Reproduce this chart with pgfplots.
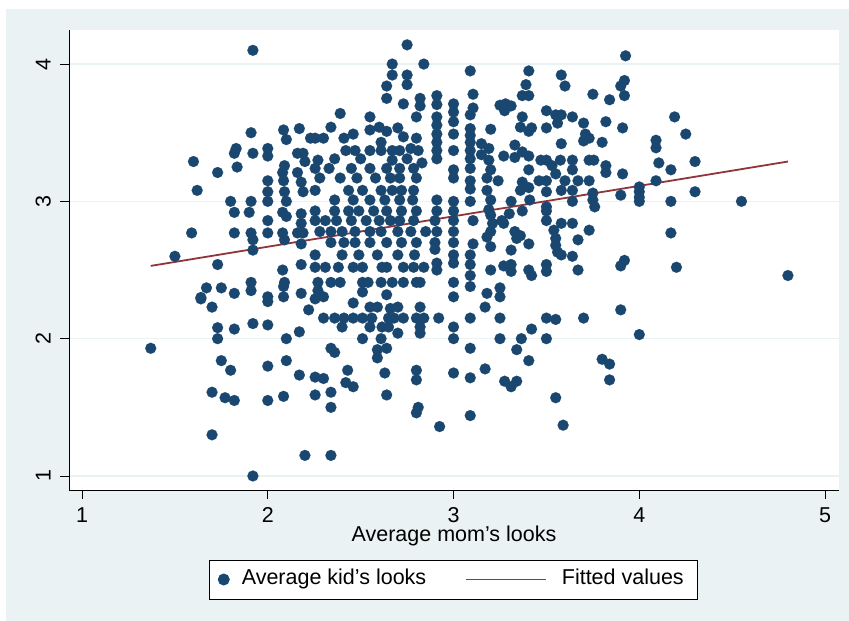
\documentclass[border=0pt]{standalone}
\usepackage{fontspec}
\setmainfont{Liberation Sans}
\usepackage{pgfplots}
\pgfplotsset{compat=1.18}
\definecolor{stbg}{HTML}{EAF2F3}
\definecolor{stblue}{HTML}{1A476F}
\definecolor{stred}{HTML}{90353B}
\begin{document}
\fontsize{21.5}{25}\selectfont
\begin{tikzpicture}[x=1pt,y=1pt]
\path[use as bounding box] (0,0) rectangle (849,621);
\fill[white] (0,0) rectangle (849,621);
\fill[stbg] (6,0) rectangle (849,612);
\begin{axis}[
  at={(69pt,131pt)}, anchor=south west,
  scale only axis, width=770pt, height=460pt,
  xmin=0.93, xmax=5.075, ymin=0.898, ymax=4.248,
  axis x line*=bottom, axis y line*=left,
  axis line style={black, line width=0.9pt, -},
  axis background/.style={fill=white},
  xtick={1,2,3,4,5}, ytick={1,2,3,4},
  tick align=outside, major tick length=9pt,
  tick style={black, line width=0.9pt},
  ymajorgrids, major grid style={stbg, line width=1.6pt},
  /pgf/number format/assume math mode=true,
  ticklabel style={font=\fontsize{21.5}{25}\selectfont},
  xticklabel style={anchor=base, yshift=-23pt},
  yticklabel style={xshift=-9.3pt, rotate=90, anchor=base},
  xlabel={Average mom's looks},
  xlabel style={at={(axis description cs:0.5,0)}, anchor=base, yshift=-52pt, font=\fontsize{21.5}{25}\selectfont},
  legend columns=2, legend cell align=left,
  legend style={at={(axis description cs:0.4994,-0.1946)}, anchor=center,
    draw=black, line width=0.9pt, fill=white, inner xsep=0pt, inner ysep=9.75pt,
    column sep=0pt, font=\fontsize{21.5}{25}\selectfont,
    nodes={inner sep=0pt, text height=15pt, text depth=4.5pt}},
]
% Average kid's looks
\addplot[only marks, mark=*, mark size=5.5pt, mark options={fill=stblue, draw=stblue, line width=0.1pt},
  legend image code/.code={\path (0pt,0pt) (31.6pt,0pt); \fill[stblue] (14pt,0pt) circle (5.5pt);}]
coordinates {
(1.92,4.10) (1.91,3.50) (2.085,3.52) (2.10,3.45) (2.17,3.53) (2.23,3.46) (1.60,3.29)
(1.83,3.385) (1.82,3.35) (1.92,3.35) (2.00,3.385) (2.00,3.33) (2.16,3.35) (1.73,3.21)
(1.835,3.25) (2.09,3.26) (2.08,3.21) (2.085,3.15) (2.16,3.21) (2.18,3.14) (2.20,3.29)
(1.62,3.08) (2.00,3.15) (2.00,3.07) (2.00,3.00) (2.09,3.07) (2.10,3.00) (2.08,2.92)
(2.10,2.89) (1.80,3.00) (1.82,2.92) (1.91,3.00) (1.90,2.92) (2.00,2.86) (2.18,2.91)
(2.18,2.84) (2.16,2.77) (2.19,2.77) (2.18,2.69) (1.59,2.77) (1.82,2.77) (1.91,2.77)
(1.92,2.72) (1.92,2.645) (2.00,2.77) (2.08,2.77) (2.09,2.72) (1.50,2.60)
(1.73,2.54) (2.08,2.50) (2.09,2.41) (2.085,2.38) (2.18,2.54) (1.67,2.37) (1.64,2.30)
(1.64,2.29) (1.75,2.37) (1.82,2.33) (1.91,2.41) (1.91,2.35) (2.00,2.305) (2.00,2.27)
(2.085,2.305) (2.18,2.33) (2.22,2.21) (1.70,2.23) (1.73,2.08) (1.73,2.00) (1.82,2.07)
(1.92,2.11) (2.00,2.10) (2.10,2.00) (2.17,2.05) (1.37,1.93) (1.75,1.84) (1.80,1.77)
(2.00,1.80) (2.10,1.84) (2.17,1.735) (1.70,1.61) (1.77,1.57) (1.82,1.55) (2.00,1.55)
(2.085,1.58) (1.70,1.30) (2.20,1.15) (1.92,1.00)
(2.75,4.14) (2.67,4.00) (2.67,3.92) (2.84,4.00) (2.75,3.92) (2.75,3.85) (2.64,3.84)
(2.64,3.75) (2.73,3.71) (2.82,3.75) (2.82,3.695) (2.80,3.615) (2.91,3.77) (2.91,3.705)
(2.91,3.615) (2.91,3.555) (2.91,3.49) (2.91,3.43) (2.91,3.37) (2.91,3.31) (3.00,3.71)
(3.00,3.65) (3.00,3.58) (3.00,3.49) (3.00,3.37) (3.00,3.23) (3.00,3.17) (2.39,3.64)
(2.55,3.615) (2.34,3.54) (2.255,3.46) (2.30,3.46) (2.41,3.46) (2.46,3.49) (2.55,3.52)
(2.60,3.54) (2.64,3.51) (2.70,3.535) (2.61,3.43) (2.73,3.47) (2.80,3.46) (2.77,3.385)
(2.42,3.37) (2.47,3.37) (2.55,3.37) (2.61,3.37) (2.67,3.37) (2.71,3.37) (2.81,3.37)
(2.19,3.35) (2.36,3.31) (2.27,3.30) (2.50,3.31) (2.67,3.30) (2.75,3.31) (2.83,3.28)
(2.255,3.24) (2.33,3.24) (2.45,3.24) (2.55,3.24) (2.64,3.24) (2.71,3.24) (2.785,3.24)
(2.28,3.17) (2.39,3.17) (2.48,3.17) (2.58,3.17) (2.66,3.17) (2.71,3.17) (2.80,3.17)
(2.255,3.08) (2.435,3.08) (2.51,3.08) (2.61,3.08) (2.67,3.08) (2.72,3.08) (2.785,3.08)
(2.19,3.07) (2.36,3.01) (2.46,3.01) (2.55,3.01) (2.63,3.01) (2.71,3.01) (2.78,3.01)
(2.91,3.01) (3.00,3.00)
(2.255,2.93) (2.36,2.93) (2.435,2.93) (2.49,2.93) (2.57,2.93) (2.64,2.93) (2.72,2.93)
(2.80,2.93) (2.91,2.93) (3.00,2.93)
(2.255,2.86) (2.31,2.86) (2.37,2.86) (2.45,2.86) (2.53,2.86) (2.60,2.86) (2.66,2.86)
(2.71,2.86) (2.785,2.86) (2.90,2.86) (3.00,2.86)
(2.28,2.78) (2.34,2.78) (2.40,2.78) (2.47,2.78) (2.55,2.78) (2.61,2.78) (2.70,2.78)
(2.77,2.78) (2.85,2.78) (2.91,2.78) (3.00,2.78)
(2.34,2.70) (2.41,2.70) (2.47,2.70) (2.55,2.70) (2.64,2.70) (2.72,2.70) (2.80,2.70)
(2.90,2.70) (3.00,2.70)
(2.255,2.61) (2.40,2.61) (2.49,2.61) (2.59,2.61) (2.70,2.61) (2.79,2.61) (2.90,2.65)
(3.00,2.61)
(2.255,2.52) (2.31,2.52) (2.38,2.52) (2.46,2.52) (2.51,2.52) (2.615,2.52) (2.64,2.52)
(2.73,2.52) (2.785,2.52) (2.84,2.52) (2.91,2.55) (2.91,2.50) (3.00,2.55)
(2.27,2.41) (2.34,2.41) (2.39,2.41) (2.51,2.41) (2.54,2.41) (2.61,2.41) (2.67,2.41)
(2.73,2.41) (2.80,2.41) (2.82,2.41) (3.00,2.41)
(2.27,2.35) (2.255,2.29) (2.30,2.305) (2.51,2.34) (2.64,2.32) (3.00,2.305)
(2.46,2.26) (2.55,2.23) (2.59,2.23) (2.66,2.22) (2.70,2.23) (2.82,2.23)
(2.30,2.15) (2.36,2.15) (2.41,2.15) (2.46,2.15) (2.51,2.15) (2.56,2.15) (2.65,2.15)
(2.68,2.15) (2.73,2.15) (2.80,2.15) (2.84,2.15) (2.92,2.15)
(2.40,2.085) (2.55,2.085) (2.615,2.085) (2.65,2.085) (2.82,2.085) (3.00,2.085)
(2.70,2.04) (2.82,2.04) (3.00,2.00) (2.51,2.00) (2.61,2.00)
(2.34,1.93) (2.36,1.90) (2.59,1.92) (2.64,1.93) (2.59,1.86) (2.43,1.77) (2.63,1.75)
(2.80,1.77) (2.80,1.70) (3.00,1.75) (2.255,1.72) (2.30,1.71) (2.42,1.68) (2.46,1.65)
(2.255,1.59) (2.34,1.61) (2.64,1.59) (2.34,1.50) (2.81,1.50) (2.80,1.46) (2.925,1.36)
(2.34,1.15)
(3.926,4.06) (3.09,3.95) (3.405,3.95) (3.58,3.92) (3.60,3.84) (3.39,3.85) (3.37,3.77)
(3.405,3.77) (3.105,3.78) (3.75,3.78) (3.84,3.74) (3.92,3.88) (3.90,3.84) (3.92,3.77)
(3.25,3.70) (3.28,3.71) (3.31,3.695) (3.275,3.66) (3.105,3.68) (3.09,3.63) (3.37,3.615)
(3.36,3.54) (3.42,3.535) (3.405,3.51) (3.50,3.66) (3.55,3.63) (3.58,3.63) (3.64,3.615)
(3.56,3.57) (3.50,3.535) (3.70,3.57) (3.71,3.49) (3.73,3.46) (3.70,3.44) (3.82,3.58)
(3.91,3.535) (3.20,3.525) (3.09,3.53) (3.09,3.48) (3.09,3.43) (3.09,3.37) (3.09,3.31)
(3.09,3.24) (3.09,3.15) (3.09,3.09) (3.09,3.00) (3.15,3.42) (3.19,3.385) (3.15,3.34)
(3.19,3.30) (3.58,3.42) (3.80,3.43) (3.33,3.41) (3.27,3.33) (3.33,3.32) (3.37,3.36)
(3.405,3.33) (3.47,3.30) (3.50,3.30) (3.575,3.30) (3.64,3.30) (3.73,3.30) (3.755,3.30)
(3.20,3.23) (3.18,3.17) (3.24,3.15) (3.405,3.23) (3.53,3.26) (3.55,3.20) (3.64,3.23)
(3.82,3.26) (3.82,3.21) (3.91,3.20) (3.46,3.15) (3.50,3.15) (3.60,3.15) (3.67,3.15)
(3.73,3.15) (3.37,3.14) (3.36,3.08) (3.405,3.10) (3.18,3.08) (3.20,3.01) (3.50,3.07)
(3.58,3.08) (3.64,3.08) (3.75,3.06) (3.75,3.01) (3.76,2.96) (3.90,3.045) (3.31,3.00)
(3.41,3.01) (3.64,3.00) (3.50,2.96) (3.50,2.93) (3.37,2.93) (3.30,2.91) (3.19,2.94)
(3.20,2.90) (3.105,2.86) (3.21,2.84) (3.26,2.86) (3.27,2.84) (3.50,2.86) (3.58,2.84)
(3.64,2.84) (3.73,2.79) (3.20,2.78) (3.18,2.74) (3.33,2.78) (3.36,2.75) (3.34,2.73)
(3.54,2.79) (3.55,2.73) (3.55,2.68) (3.67,2.72) (3.105,2.69) (3.20,2.67) (3.31,2.645)
(3.405,2.69) (3.56,2.63) (3.64,2.60)
(3.09,2.61) (3.09,2.54) (3.09,2.46) (3.09,2.38) (3.20,2.50) (3.27,2.53) (3.31,2.54)
(3.31,2.49) (3.405,2.50) (3.42,2.46) (3.50,2.54) (3.50,2.49) (3.58,2.61) (3.67,2.50)
(3.92,2.57) (3.90,2.53) (3.18,2.33) (3.25,2.37) (3.25,2.305) (3.17,2.23) (3.09,2.15)
(3.25,2.15) (3.50,2.15) (3.55,2.14) (3.70,2.15) (3.90,2.21) (3.42,2.07) (3.25,2.00)
(3.365,2.00) (3.50,2.00) (3.09,1.93) (3.34,1.92) (3.405,1.84) (3.80,1.85) (3.84,1.815)
(3.17,1.78) (3.09,1.715) (3.275,1.69) (3.34,1.69) (3.31,1.65) (3.84,1.70) (3.55,1.57)
(3.09,1.44) (3.59,1.37)
(4.19,3.615) (4.25,3.49) (4.09,3.445) (4.09,3.39) (4.105,3.28) (4.30,3.29) (4.17,3.23)
(4.09,3.15) (4.00,3.105) (4.00,3.07) (4.00,3.03) (4.00,3.00) (4.17,3.00) (4.30,3.07)
(4.55,3.00) (4.17,2.77) (4.20,2.52) (4.80,2.46) (4.00,2.03)
};
\addlegendentry{Average kid's looks}
% Fitted values
\addplot[stred, line width=1.8pt,
  legend image code/.code={\path (0pt,0pt) (133.8pt,0pt); \draw[stred, line width=1.8pt] (39pt,0pt) -- (119.3pt,0pt);}]
coordinates {(1.37,2.53) (4.80,3.29)};
\addlegendentry{Fitted values\rule{14pt}{0pt}}
\end{axis}
\end{tikzpicture}
\end{document}
